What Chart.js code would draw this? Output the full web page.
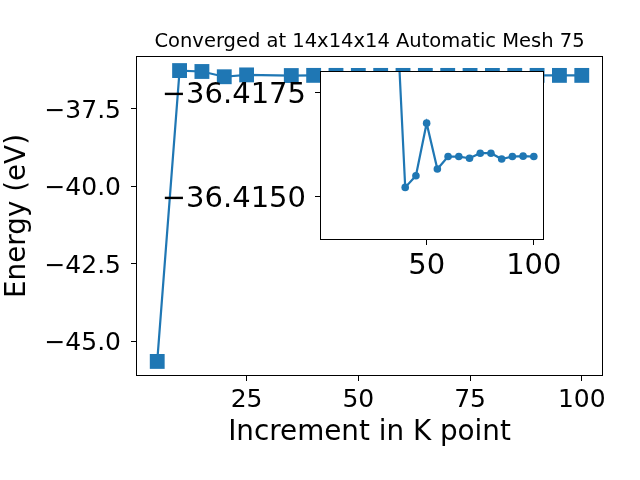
<!DOCTYPE html>
<html>
<head>
<meta charset="utf-8">
<script src="https://cdn.jsdelivr.net/npm/chart.js@4.4.0/dist/chart.umd.min.js"></script>
<style>
  body { margin: 0; background: #fff; }
  #wrap { position: relative; width: 640px; height: 480px; }
  #wrap canvas { position: absolute; left: 0; top: 0; }
</style>
</head>
<body>
<div id="wrap">
  <canvas id="main" width="640" height="480"></canvas>
  <canvas id="inset" width="640" height="480"></canvas>
</div>
<script>
const kPoints = [5, 10, 15, 20, 25, 35, 40, 45, 50, 55, 60, 65, 70, 75, 80, 85, 90, 95, 100];
const energies = [-45.65, -36.26, -36.29, -36.46, -36.40, -36.4205, -36.41522, -36.4155, -36.41676,
  -36.41566, -36.41596, -36.41596, -36.41592, -36.41604, -36.41604, -36.4159, -36.41596, -36.41597, -36.41596];

const mainXTicks = [25, 50, 75, 100];
const mainYTicks = [-45, -42.5, -40, -37.5];
const insetFrom = 35; // zoomed part starts here
const insetXTicks = [50, 100];
const insetYTicks = [-36.4175, -36.4150];

const blue = "#1f77b4";
const fam = "'DejaVu Sans', sans-serif";

Chart.defaults.font.family = fam;
Chart.defaults.color = "#000";

function pts(from) {
  const out = [];
  kPoints.forEach((k, i) => { if (k >= from) out.push({ x: k, y: energies[i] }); });
  return out;
}

function minus(v, d) {
  return v.toFixed(d).replace("-", "\u2212");
}

// matplotlib style box round the plot area
const frame = {
  id: "frame",
  beforeDraw(chart, args, opts) {
    if (!opts.fill) return;
    const a = chart.chartArea, c = chart.ctx;
    c.save();
    c.fillStyle = "#fff";
    c.fillRect(a.left, a.top, a.right - a.left, a.bottom - a.top);
    c.restore();
  },
  afterDraw(chart) {
    const a = chart.chartArea, c = chart.ctx;
    c.save();
    c.strokeStyle = "#000";
    c.lineWidth = 1;
    c.strokeRect(Math.round(a.left) + 0.5, Math.round(a.top) + 0.5,
      Math.round(a.right - a.left) - 1, Math.round(a.bottom - a.top) - 1);
    c.restore();
  }
};

function axisGrid() {
  return { display: true, drawOnChartArea: false, drawTicks: true, tickLength: 5, color: "#000", lineWidth: 1 };
}

new Chart(document.getElementById("main"), {
  type: "line",
  data: {
    datasets: [{
      data: pts(0),
      borderColor: blue,
      backgroundColor: blue,
      borderWidth: 2.2,
      pointStyle: "rect",
      pointRadius: 10.5,
      pointBorderWidth: 0,
      pointBackgroundColor: blue,
      tension: 0
    }]
  },
  options: {
    responsive: false,
    animation: false,
    devicePixelRatio: 1,
    layout: { padding: { left: 0, right: 37, top: 0, bottom: 0 } },
    plugins: {
      legend: { display: false },
      tooltip: { enabled: false },
      frame: { fill: false },
      title: {
        display: true,
        fullSize: false,
        text: "Converged at 14x14x14 Automatic Mesh 75",
        font: { size: 19.5, weight: "normal" },
        color: "#000",
        padding: { top: 30, bottom: 2.6 }
      }
    },
    scales: {
      x: {
        type: "linear",
        min: 0.25,
        max: 104.75,
        afterBuildTicks: s => { s.ticks = mainXTicks.map(v => ({ value: v })); },
        afterFit: s => { s.height = 104; },
        ticks: { font: { size: 25 }, color: "#000", padding: 4, maxRotation: 0, callback: v => String(v) },
        grid: axisGrid(),
        border: { display: false },
        title: { display: true, text: "Increment in K point", font: { size: 27.8 }, color: "#000", padding: { top: 0, bottom: 31 } }
      },
      y: {
        type: "linear",
        min: -46.12,
        max: -35.79,
        afterBuildTicks: s => { s.ticks = mainYTicks.map(v => ({ value: v })); },
        afterFit: s => { s.width = 136; },
        ticks: { font: { size: 25 }, color: "#000", padding: 10, labelOffset: 2.5, callback: v => minus(v, 1) },
        grid: axisGrid(),
        border: { display: false },
        title: { display: true, text: "Energy (eV)", font: { size: 27.8 }, color: "#000", padding: { top: 1, bottom: 0 } }
      }
    }
  },
  plugins: [frame]
});

new Chart(document.getElementById("inset"), {
  type: "line",
  data: {
    datasets: [{
      data: pts(insetFrom),
      borderColor: blue,
      backgroundColor: blue,
      borderWidth: 2.2,
      pointStyle: "circle",
      pointRadius: 3.8,
      pointBorderWidth: 0,
      pointBackgroundColor: blue,
      tension: 0
    }]
  },
  options: {
    responsive: false,
    animation: false,
    devicePixelRatio: 1,
    layout: { padding: { left: 0, right: 96, top: 71, bottom: 0 } },
    plugins: {
      legend: { display: false },
      tooltip: { enabled: false },
      frame: { fill: true }
    },
    scales: {
      x: {
        type: "linear",
        min: 0.25,
        max: 104.75,
        afterBuildTicks: s => { s.ticks = insetXTicks.map(v => ({ value: v })); },
        afterFit: s => { s.height = 240; },
        ticks: { font: { size: 29 }, color: "#000", padding: 4, maxRotation: 0, callback: v => String(v) },
        grid: axisGrid(),
        border: { display: false }
      },
      y: {
        type: "linear",
        reverse: true,
        min: -36.41801,
        max: -36.41396,
        afterBuildTicks: s => { s.ticks = insetYTicks.map(v => ({ value: v })); },
        afterFit: s => { s.width = 320; },
        ticks: { font: { size: 29 }, color: "#000", padding: 9, labelOffset: 3, callback: v => minus(v, 4) },
        grid: axisGrid(),
        border: { display: false }
      }
    }
  },
  plugins: [frame]
});
</script>
</body>
</html>
